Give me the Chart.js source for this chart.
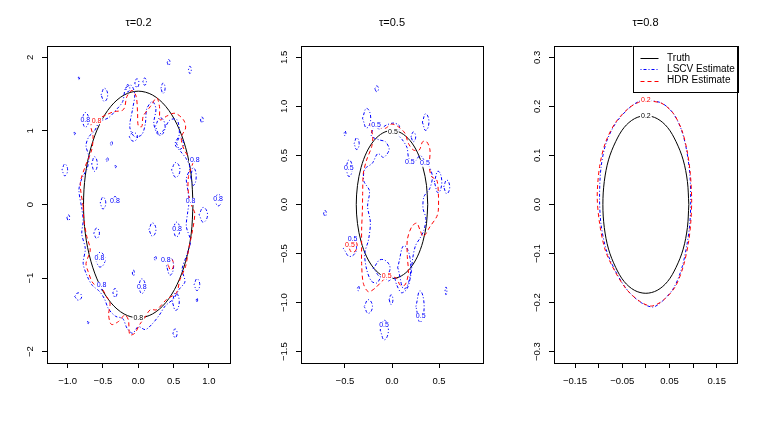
<!DOCTYPE html>
<html>
<head>
<meta charset="utf-8">
<script src="https://cdn.jsdelivr.net/npm/chart.js@4.4.0/dist/chart.umd.min.js"></script>
<style>
  html, body { margin: 0; padding: 0; background: #fff; }
  #wrap { position: relative; width: 761px; height: 422px; }
  #wrap canvas { position: absolute; left: 0; top: 0; }
</style>
</head>
<body>
<div id="wrap">
  <canvas id="c1" width="761" height="422"></canvas>
  <canvas id="c2" width="761" height="422"></canvas>
  <canvas id="c3" width="761" height="422"></canvas>
</div>
<script>
// ---- tau = 0.2 ----
const tau2XTicks = [-1, -0.5, 0, 0.5, 1];
const tau2XLabels = ['−1.0', '−0.5', '0.0', '0.5', '1.0'];
const tau2YTicks = [-2, -1, 0, 1, 2];
const tau2YLabels = ['−2', '−1', '0', '1', '2'];

const tau2Truth = [[
  [0.775, 0], [0.749, 0.399], [0.671, 0.770], [0.548, 1.089], [0.388, 1.334], [0.201, 1.488],
  [0, 1.540], [-0.201, 1.488], [-0.388, 1.334], [-0.548, 1.089], [-0.671, 0.770], [-0.749, 0.399],
  [-0.775, 0], [-0.749, -0.399], [-0.671, -0.770], [-0.548, -1.089], [-0.388, -1.334], [-0.201, -1.488],
  [0, -1.540], [0.201, -1.488], [0.388, -1.334], [0.548, -1.089], [0.671, -0.770], [0.749, -0.399]
]];

const tau2Hdr = [[
  [-0.78, -0.03], [-0.82, 0.29], [-0.75, 0.52], [-0.66, 0.74], [-0.64, 0.92], [-0.67, 1.08],
  [-0.59, 1.15], [-0.45, 1.22], [-0.35, 1.26], [-0.21, 1.29], [-0.16, 1.47], [-0.09, 1.55],
  [-0.03, 1.47], [-0.01, 1.24], [0.00, 1.07], [0.05, 1.06], [0.07, 1.20], [0.17, 1.33],
  [0.26, 1.45], [0.30, 1.33], [0.31, 1.15], [0.40, 1.20], [0.52, 1.24], [0.64, 1.15],
  [0.67, 1.04], [0.61, 0.92], [0.63, 0.79], [0.71, 0.65], [0.78, 0.61], [0.71, 0.38],
  [0.71, 0.15], [0.76, -0.03], [0.80, -0.12], [0.76, -0.39], [0.71, -0.62], [0.67, -0.84],
  [0.59, -1.02], [0.54, -1.20], [0.40, -1.29], [0.26, -1.43], [0.17, -1.43], [0.09, -1.54],
  [0.02, -1.63], [-0.05, -1.75], [-0.12, -1.77], [-0.14, -1.57], [-0.19, -1.50], [-0.28, -1.59],
  [-0.38, -1.63], [-0.42, -1.50], [-0.40, -1.34], [-0.45, -1.25], [-0.52, -1.14], [-0.64, -1.07],
  [-0.71, -0.91], [-0.74, -0.80], [-0.68, -0.62], [-0.73, -0.43], [-0.77, -0.21]
]];
const tau2HdrIslands = [[0.42, 0.50, -0.89, -0.74]];

const tau2Lscv = [[
  [-0.80, -0.05], [-0.84, 0.20], [-0.80, 0.35], [-0.72, 0.50], [-0.70, 0.65], [-0.74, 0.80],
  [-0.70, 0.92], [-0.62, 1.00], [-0.55, 1.12], [-0.42, 1.18], [-0.30, 1.30], [-0.22, 1.40],
  [-0.18, 1.58], [-0.10, 1.62], [-0.05, 1.50], [-0.08, 1.30], [-0.12, 1.05], [-0.05, 0.92],
  [0.05, 0.95], [0.10, 1.10], [0.12, 1.30], [0.20, 1.40], [0.25, 1.30], [0.22, 1.10],
  [0.28, 0.95], [0.35, 1.00], [0.45, 1.15], [0.55, 1.15], [0.58, 0.95], [0.52, 0.82],
  [0.60, 0.72], [0.68, 0.62], [0.73, 0.50], [0.68, 0.35], [0.70, 0.20], [0.72, 0.05],
  [0.70, -0.10], [0.68, -0.30], [0.74, -0.50], [0.68, -0.70], [0.62, -0.88], [0.66, -1.05],
  [0.58, -1.15], [0.50, -1.28], [0.38, -1.38], [0.30, -1.50], [0.20, -1.62], [0.10, -1.70],
  [0.00, -1.66], [-0.08, -1.75], [-0.16, -1.68], [-0.22, -1.55], [-0.32, -1.52], [-0.42, -1.42],
  [-0.48, -1.28], [-0.55, -1.18], [-0.65, -1.10], [-0.72, -0.98], [-0.78, -0.80], [-0.75, -0.60],
  [-0.80, -0.40], [-0.78, -0.22]
]];
// small closed blue contours: [xmin, xmax, ymin, ymax]
const tau2LscvIslands = [
  [-0.527, -0.433, 1.40, 1.58], [0.32, 0.38, 1.51, 1.65], [0.41, 0.45, 1.89, 1.97],
  [0.71, 0.75, 1.78, 1.88], [-0.18, -0.12, 1.53, 1.63], [-0.05, 0.01, 1.59, 1.71],
  [0.065, 0.115, 1.62, 1.72], [-0.80, -0.70, 1.05, 1.25], [-1.08, -1.00, 0.39, 0.55],
  [-1.01, -0.97, -0.22, -0.14], [0.47, 0.59, 0.37, 0.57], [-0.63, -0.55, -0.46, -0.32],
  [-0.54, -0.46, -0.06, 0.10], [-0.36, -0.30, 0.01, 0.11], [0.15, 0.25, -0.43, -0.25],
  [0.86, 0.98, -0.24, -0.04], [1.08, 1.18, -0.02, 0.14], [0.88, 0.92, 1.11, 1.19],
  [0.49, 0.59, -0.44, -0.24], [0.79, 0.87, -1.17, -1.01], [-0.61, -0.47, -0.85, -0.65],
  [0.00, 0.10, -1.21, -1.01], [0.40, 0.50, -0.96, -0.72], [-0.90, -0.80, -1.30, -1.20],
  [0.49, 0.55, -1.81, -1.69], [0.48, 0.58, -1.44, -1.20], [-0.55, -0.49, -1.16, -1.06],
  [-0.36, -0.30, -1.26, -1.14], [0.225, 0.255, -0.76, -0.70], [-0.085, -0.055, -0.97, -0.89],
  [-0.395, -0.365, 0.80, 0.86], [-0.455, -0.425, 0.58, 0.64], [0.74, 0.82, 0.26, 0.50],
  [0.54, 0.64, 0.75, 0.91], [-0.13, -0.01, 0.86, 0.98], [0.24, 0.38, 0.94, 1.18],
  [-0.66, -0.58, 0.45, 0.65], [-0.85, -0.83, 1.70, 1.74], [-0.33, -0.31, 0.50, 0.54],
  [-0.72, -0.70, -1.62, -1.58], [0.82, 0.84, -1.33, -1.27], [-0.91, -0.89, 0.95, 0.99]
];
const tau2Labels = [
  [0.0, -1.545, '0.8', 'k'], [-0.59, 1.14, '0.8', 'r'],
  [-0.75, 1.15, '0.8', 'b'], [0.80, 0.61, '0.8', 'b'], [0.74, 0.04, '0.8', 'b'],
  [1.13, 0.07, '0.8', 'b'], [-0.33, 0.04, '0.8', 'b'], [0.55, -0.33, '0.8', 'b'],
  [-0.55, -0.73, '0.8', 'b'], [0.39, -0.76, '0.8', 'b'], [0.05, -1.12, '0.8', 'b'],
  [-0.52, -1.10, '0.8', 'b']
];

// ---- tau = 0.5 ----
const tau5XTicks = [-0.5, 0, 0.5];
const tau5XLabels = ['−0.5', '0.0', '0.5'];
const tau5YTicks = [-1.5, -1, -0.5, 0, 0.5, 1, 1.5];
const tau5YLabels = ['−1.5', '−1.0', '−0.5', '0.0', '0.5', '1.0', '1.5'];

const tau5Truth = [[
  [0.380, 0], [0.367, 0.195], [0.329, 0.378], [0.269, 0.534], [0.190, 0.654], [0.098, 0.729],
  [0, 0.755], [-0.098, 0.729], [-0.190, 0.654], [-0.269, 0.534], [-0.329, 0.378], [-0.367, 0.195],
  [-0.380, 0], [-0.367, -0.195], [-0.329, -0.378], [-0.269, -0.534], [-0.190, -0.654], [-0.098, -0.729],
  [0, -0.755], [0.098, -0.729], [0.190, -0.654], [0.269, -0.534], [0.329, -0.378], [0.367, -0.195]
]];

const tau5Hdr = [[
  [-0.234, 0.828], [-0.205, 0.69], [-0.216, 0.59], [-0.27, 0.454], [-0.305, 0.318], [-0.312, 0.114],
  [-0.315, -0.06], [-0.323, -0.25], [-0.323, -0.40], [-0.323, -0.60], [-0.305, -0.803], [-0.252, -0.889],
  [-0.181, -0.854], [-0.093, -0.77], [-0.039, -0.736], [0.05, -0.752], [0.085, -0.82], [0.138, -0.82],
  [0.174, -0.70], [0.163, -0.53], [0.163, -0.36], [0.21, -0.226], [0.263, -0.19], [0.298, -0.26],
  [0.333, -0.328], [0.404, -0.226], [0.476, -0.124], [0.493, -0.056], [0.493, 0.114], [0.476, 0.25],
  [0.422, 0.283], [0.397, 0.385], [0.404, 0.556], [0.369, 0.64], [0.326, 0.64], [0.29, 0.556],
  [0.227, 0.556], [0.174, 0.624], [0.138, 0.726], [0.067, 0.793], [-0.003, 0.82], [-0.074, 0.776],
  [-0.163, 0.793]
]];
const tau5HdrIslands = [[-0.47, -0.37, -0.49, -0.35]];

const tau5Lscv = [[
  [-0.19, 0.80], [-0.13, 0.77], [-0.06, 0.81], [0.02, 0.83], [0.08, 0.80], [0.06, 0.72],
  [0.11, 0.66], [0.16, 0.58], [0.18, 0.47], [0.24, 0.44], [0.30, 0.50], [0.35, 0.44],
  [0.40, 0.38], [0.43, 0.28], [0.40, 0.16], [0.34, 0.08], [0.33, -0.04], [0.36, -0.14],
  [0.34, -0.26], [0.30, -0.34], [0.25, -0.42], [0.22, -0.55], [0.20, -0.72], [0.16, -0.86],
  [0.10, -0.90], [0.05, -0.82], [0.02, -0.74], [-0.04, -0.78], [-0.10, -0.72], [-0.16, -0.80],
  [-0.22, -0.78], [-0.27, -0.66], [-0.29, -0.50], [-0.25, -0.36], [-0.23, -0.18], [-0.26, -0.02],
  [-0.24, 0.14], [-0.30, 0.24], [-0.29, 0.36], [-0.21, 0.42], [-0.15, 0.52], [-0.09, 0.48],
  [-0.03, 0.56], [-0.07, 0.64], [-0.14, 0.66], [-0.22, 0.70]
]];
const tau5LscvIslands = [
  [-0.183, -0.143, 1.15, 1.21], [-0.314, -0.226, 0.78, 0.98], [0.323, 0.393, 0.755, 0.925],
  [-0.403, -0.349, 0.56, 0.68], [-0.492, -0.422, 0.285, 0.455], [-0.51, -0.49, 0.70, 0.75],
  [0.55, 0.614, 0.11, 0.25], [-0.728, -0.698, -0.12, -0.06], [-0.517, -0.377, -0.53, -0.37],
  [-0.296, -0.208, -1.11, -0.97], [-0.126, -0.038, -1.38, -1.18], [0.254, 0.342, -1.20, -0.88],
  [0.564, 0.584, -0.92, -0.84], [-0.03, 0.01, -1.02, -0.92], [-0.368, -0.348, -0.88, -0.83],
  [0.202, 0.252, 0.64, 0.74], [0.45, 0.53, 0.12, 0.34], [0.06, 0.20, -0.86, -0.42],
  [-0.20, -0.02, -0.74, -0.56]
];
const tau5Labels = [
  [0.01, 0.74, '0.5', 'k'], [0.19, 0.43, '0.5', 'b'], [-0.46, 0.37, '0.5', 'b'],
  [-0.42, -0.35, '0.5', 'b'], [-0.17, 0.81, '0.5', 'b'], [0.305, -1.14, '0.5', 'b'],
  [-0.085, -1.23, '0.5', 'b'], [0.35, 0.42, '0.5', 'b'],
  [-0.447, -0.41, '0.5', 'r'], [-0.056, -0.73, '0.5', 'r']
];

// ---- tau = 0.8 ----
const tau8XTicks = [-0.15, -0.10, -0.05, 0, 0.05, 0.10, 0.15];
const tau8XLabels = ['−0.15', '', '−0.05', '', '0.05', '', '0.15'];
const tau8YTicks = [-0.3, -0.2, -0.1, 0, 0.1, 0.2, 0.3];
const tau8YLabels = ['−0.3', '−0.2', '−0.1', '0.0', '0.1', '0.2', '0.3'];

const tau8Truth = [[
  [0.091, 0], [0.088, 0.047], [0.079, 0.091], [0.064, 0.128], [0.046, 0.157], [0.024, 0.175],
  [0, 0.181], [-0.024, 0.175], [-0.046, 0.157], [-0.064, 0.128], [-0.079, 0.091], [-0.088, 0.047],
  [-0.091, 0], [-0.088, -0.047], [-0.079, -0.091], [-0.064, -0.128], [-0.046, -0.157], [-0.024, -0.175],
  [0, -0.181], [0.024, -0.175], [0.046, -0.157], [0.064, -0.128], [0.079, -0.091], [0.088, -0.047]
]];
const tau8Hdr = [[
  [0.002, 0.212], [0.034, 0.206], [0.058, 0.186], [0.076, 0.152], [0.087, 0.111], [0.094, 0.064],
  [0.097, 0.009], [0.095, -0.038], [0.090, -0.079], [0.079, -0.127], [0.062, -0.168], [0.037, -0.195],
  [0.012, -0.207], [-0.012, -0.198], [-0.040, -0.174], [-0.065, -0.137], [-0.086, -0.093], [-0.098, -0.038],
  [-0.103, 0.016], [-0.098, 0.077], [-0.086, 0.125], [-0.065, 0.166], [-0.037, 0.196], [-0.016, 0.208]
]];
const tau8Lscv = [[
  [0.000, 0.213], [0.033, 0.207], [0.057, 0.187], [0.075, 0.153], [0.086, 0.112], [0.093, 0.063],
  [0.095, 0.008], [0.093, -0.040], [0.087, -0.082], [0.076, -0.130], [0.059, -0.170], [0.035, -0.197],
  [0.015, -0.209], [-0.010, -0.200], [-0.038, -0.176], [-0.062, -0.140], [-0.083, -0.095], [-0.095, -0.040],
  [-0.098, 0.015], [-0.095, 0.075], [-0.084, 0.126], [-0.063, 0.167], [-0.035, 0.197], [-0.015, 0.210]
]];
const tau8Labels = [[0.0, 0.180, '0.2', 'k'], [0.0, 0.2125, '0.2', 'r']];

const legendNames = ['Truth', 'LSCV Estimate', 'HDR Estimate'];

const FONT = "'Liberation Sans', Arial, Helvetica, sans-serif";
const COLORS = { k: '#000000', b: '#0000ff', r: '#ff0000' };
const DASH_LSCV = [1, 2, 3, 2];
const DASH_HDR = [4, 3];

function toPoints(loops) {
  const pts = [];
  loops.forEach((loop, k) => {
    if (k > 0) pts.push({ x: null, y: null });
    loop.forEach(p => pts.push({ x: p[0], y: p[1] }));
    pts.push({ x: loop[0][0], y: loop[0][1] });
  });
  return pts;
}

function boxLoops(boxes) {
  return boxes.map(b => {
    const cx = (b[0] + b[1]) / 2, cy = (b[2] + b[3]) / 2;
    return [[b[0], cy], [cx, b[3]], [b[1], cy], [cx, b[2]]];
  });
}

// full box around the plot region, like R's box()
const framePlugin = {
  id: 'frame',
  afterDraw(chart) {
    const { ctx, chartArea: a } = chart;
    ctx.save();
    ctx.strokeStyle = '#000';
    ctx.lineWidth = 1;
    ctx.strokeRect(a.left + 0.5, a.top + 0.5, a.right - a.left, a.bottom - a.top);
    ctx.restore();
  }
};

// inline contour level labels
const contourLabelPlugin = {
  id: 'contourLabels',
  afterDatasetsDraw(chart, args, opts) {
    const { ctx } = chart;
    const xs = chart.scales.x, ys = chart.scales.y;
    ctx.save();
    ctx.font = '7px ' + FONT;
    ctx.textAlign = 'center';
    ctx.textBaseline = 'middle';
    (opts.items || []).forEach(([x, y, txt, c]) => {
      const px = xs.getPixelForValue(x), py = ys.getPixelForValue(y);
      const w = ctx.measureText(txt).width;
      ctx.fillStyle = '#fff';
      ctx.fillRect(px - w / 2 - 1, py - 3.5, w + 2, 7);
      ctx.fillStyle = COLORS[c];
      ctx.fillText(txt, px, py);
    });
    ctx.restore();
  }
};

// R style legend box in the top right corner
const boxLegendPlugin = {
  id: 'boxLegend',
  afterDraw(chart, args, opts) {
    if (!opts.show) return;
    const { ctx, chartArea: a } = chart;
    const w = 104.5, h = 45.5;
    const x0 = a.right - w, y0 = a.top;
    ctx.save();
    ctx.fillStyle = '#fff';
    ctx.fillRect(x0, y0, w, h);
    ctx.strokeStyle = '#000';
    ctx.lineWidth = 1;
    ctx.strokeRect(Math.round(x0) + 0.5, Math.round(y0) + 0.5, Math.round(w), Math.round(h));
    ctx.font = '10px ' + FONT;
    ctx.textBaseline = 'middle';
    ctx.textAlign = 'left';
    legendNames.forEach((name, i) => {
      const ds = chart.data.datasets.find(d => d.label === name);
      const y = y0 + 12 + i * 11.3;
      ctx.strokeStyle = ds.borderColor;
      ctx.setLineDash(ds.borderDash || []);
      ctx.beginPath();
      ctx.moveTo(x0 + 8, Math.round(y) + 0.5);
      ctx.lineTo(x0 + 26, Math.round(y) + 0.5);
      ctx.stroke();
      ctx.fillStyle = '#000';
      ctx.fillText(name, x0 + 34.6, y);
    });
    ctx.restore();
  }
};

function axis(kind, min, max, ticks, labels, pad) {
  const isY = kind === 'y';
  return {
    type: 'linear',
    position: isY ? 'left' : 'bottom',
    min: min,
    max: max,
    afterBuildTicks: s => { s.ticks = ticks.map(v => ({ value: v })); },
    afterFit: s => { if (isY) s.width = 40; else s.height = 30; },
    ticks: {
      autoSkip: false,
      minRotation: isY ? 90 : 0,
      maxRotation: isY ? 90 : 0,
      crossAlign: isY ? 'center' : 'near',
      padding: pad,
      color: '#000',
      font: { family: FONT, size: 9.5 },
      callback: (v, i) => labels[i]
    },
    grid: {
      display: true,
      drawOnChartArea: false,
      drawTicks: true,
      tickLength: 5,
      tickColor: '#000',
      tickWidth: 1
    },
    border: { display: true, color: '#000', width: 1 }
  };
}

function makePanel(p) {
  const datasets = [
    { label: 'HDR Estimate', data: toPoints(p.hdr), borderColor: COLORS.r, borderDash: DASH_HDR, tension: 0.3 },
    { label: 'HDR islands', data: toPoints(boxLoops(p.hdrIsl)), borderColor: COLORS.r, borderDash: DASH_HDR, tension: 0.5 },
    { label: 'LSCV Estimate', data: toPoints(p.lscv), borderColor: COLORS.b, borderDash: DASH_LSCV, tension: 0.3 },
    { label: 'LSCV islands', data: toPoints(boxLoops(p.lscvIsl)), borderColor: COLORS.b, borderDash: DASH_LSCV, tension: 0.5 },
    { label: 'Truth', data: toPoints(p.truth), borderColor: COLORS.k, borderDash: [], tension: 0.34 }
  ].map(d => Object.assign({ showLine: true, pointRadius: 0, borderWidth: 1, fill: false }, d));

  return new Chart(document.getElementById(p.id), {
    type: 'scatter',
    data: { datasets },
    plugins: [framePlugin, contourLabelPlugin, boxLegendPlugin],
    options: {
      responsive: false,
      animation: false,
      events: [],
      layout: { padding: { left: p.left, right: p.right, top: 0, bottom: 29 } },
      scales: {
        x: axis('x', p.xr[0], p.xr[1], p.xt, p.xl, 7.5),
        y: axis('y', p.yr[0], p.yr[1], p.yt, p.yl, p.yPad)
      },
      plugins: {
        legend: { display: false },
        tooltip: { enabled: false },
        title: {
          display: true,
          text: p.title,
          fullSize: false,
          color: '#000',
          font: { family: FONT, size: 11, weight: 'normal' },
          padding: { top: 16.7, bottom: 16.1 }
        },
        contourLabels: { items: p.labels },
        boxLegend: { show: p.legend }
      }
    }
  });
}

makePanel({
  id: 'c1', title: 'τ=0.2', left: 7, right: 531, xr: [-1.292, 1.298], yr: [-2.154, 2.154],
  xt: tau2XTicks, xl: tau2XLabels, yt: tau2YTicks, yl: tau2YLabels, yPad: 6.3,
  truth: tau2Truth, hdr: tau2Hdr, hdrIsl: tau2HdrIslands, lscv: tau2Lscv, lscvIsl: tau2LscvIslands,
  labels: tau2Labels, legend: false
});
makePanel({
  id: 'c2', title: 'τ=0.5', left: 261, right: 278, xr: [-0.968, 0.968], yr: [-1.616, 1.616],
  xt: tau5XTicks, xl: tau5XLabels, yt: tau5YTicks, yl: tau5YLabels, yPad: 2.3,
  truth: tau5Truth, hdr: tau5Hdr, hdrIsl: tau5HdrIslands, lscv: tau5Lscv, lscvIsl: tau5LscvIslands,
  labels: tau5Labels, legend: false
});
makePanel({
  id: 'c3', title: 'τ=0.8', left: 514, right: 24, xr: [-0.1945, 0.193], yr: [-0.3231, 0.3231],
  xt: tau8XTicks, xl: tau8XLabels, yt: tau8YTicks, yl: tau8YLabels, yPad: 2.3,
  truth: tau8Truth, hdr: tau8Hdr, hdrIsl: [], lscv: tau8Lscv, lscvIsl: [],
  labels: tau8Labels, legend: true
});
</script>
</body>
</html>
